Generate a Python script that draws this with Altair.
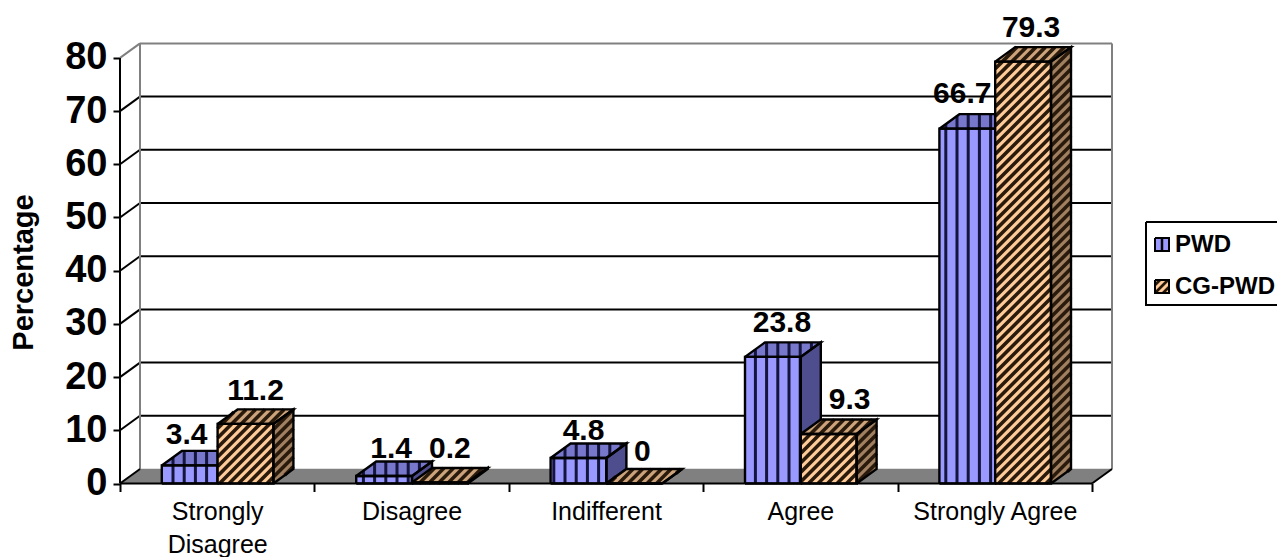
import altair as alt
import pandas as pd

categories = ["Strongly Disagree", "Disagree", "Indifferent", "Agree", "Strongly Agree"]
series_names = ["PWD", "CG-PWD"]
pwd = [3.4, 1.4, 4.8, 23.8, 66.7]
cg_pwd = [11.2, 0.2, 0, 9.3, 79.3]
y_ticks = [0, 10, 20, 30, 40, 50, 60, 70, 80]
# label nudges, in pixels, from the front-top centre of each bar (PWD then CG-PWD per category)
pwd_nudge = [(-3, -30), (7, -27), (5, -27), (9, -34), (-5, -35)]
cg_nudge = [(10, -33), (10, -33), (8, -32), (21, -34), (8, -34)]

# Scale set-up: one category = CAT pixels, one percent = UNIT pixels, plot area origin at (120, 483.5)
CAT, UNIT, OX, OY = 194.4, 5.32, 120.0, 483.5
PW, PH = 1157, 475.5
DX, DY = 20.0, 14.5
GAP, BW = 41.8, 55.8
Y_TITLE = "Percentage"


def X(px):
    return (px - OX) / CAT


def Y(py):
    return (OY - py) / UNIT


xs = alt.Scale(domain=[0, PW / CAT], nice=False, zero=False)
ys = alt.Scale(domain=[0, PH / UNIT], nice=False, zero=False)


def enc_xy():
    return dict(x=alt.X("x:Q", scale=xs, title=None), y=alt.Y("y:Q", scale=ys, title=Y_TITLE))


def poly_df(polys):
    rows = []
    for i, p in enumerate(polys):
        for s, (a, b) in enumerate(list(p) + [p[0]]):
            rows.append({"id": i, "s": s, "x": X(a), "y": Y(b)})
    return pd.DataFrame(rows)


def fill_layer(polys, color):
    return alt.Chart(poly_df(polys)).mark_line(fill=color, stroke=color, strokeWidth=0.5).encode(
        detail="id:N", order="s:Q", **enc_xy())


def outline_layer(polys, color="black", w=2.4):
    return alt.Chart(poly_df(polys)).mark_line(stroke=color, strokeWidth=w, strokeJoin="miter").encode(
        detail="id:N", order="s:Q", **enc_xy())


def seg_layer(segs, color, w):
    df = pd.DataFrame([{"x": X(a), "y": Y(b), "x2": X(c), "y2": Y(d)} for a, b, c, d in segs])
    return alt.Chart(df).mark_rule(color=color, strokeWidth=w).encode(x2="x2:Q", y2="y2:Q", **enc_xy())


def clip(poly, kind, c):
    f = (lambda p: p[0]) if kind == "v" else (lambda p: p[0] + p[1])
    pts = []
    n = len(poly)
    for i in range(n):
        a, b = poly[i], poly[(i + 1) % n]
        fa, fb = f(a), f(b)
        if fa == fb:
            continue
        t = (c - fa) / (fb - fa)
        if 0 <= t <= 1:
            pts.append((a[0] + t * (b[0] - a[0]), a[1] + t * (b[1] - a[1])))
    if len(pts) < 2:
        return None
    pts.sort()
    return (*pts[0], *pts[-1])


def stripes(polys, kind, period, phase=0.0):
    out = []
    for poly in polys:
        f = (lambda p: p[0]) if kind == "v" else (lambda p: p[0] + p[1])
        lo, hi = min(map(f, poly)), max(map(f, poly))
        k = int((lo - phase) // period)
        c = k * period + phase
        while c <= hi:
            s = clip(poly, kind, c)
            if s:
                out.append(s)
            c += period
    return out


def bar_faces(values, idx):
    fr, tp, sd = [], [], []
    for i, v in enumerate(values):
        x0 = OX + CAT * i + GAP + idx * BW
        x1 = x0 + BW
        yt = OY - v * UNIT
        fr.append([(x0, OY), (x1, OY), (x1, yt), (x0, yt)])
        tp.append([(x0, yt), (x1, yt), (x1 + DX, yt - DY), (x0 + DX, yt - DY)])
        sd.append([(x1, OY), (x1 + DX, OY - DY), (x1 + DX, yt - DY), (x1, yt)])
    return fr, tp, sd


layers = []

# real axes
tick_vals = [i / 2 for i in range(11)]
label_expr = ""
wrapped = {"Strongly Disagree": ["Strongly", "Disagree"]}
for i, c in enumerate(categories):
    parts = wrapped.get(c, [c])
    lit = "[" + ",".join("'" + p + "'" for p in parts) + "]"
    label_expr += f"datum.value=={i + 0.5}?{lit}:"
label_expr += "''"
axis_df = pd.DataFrame({"x": [0.0], "y": [0.0]})
layers.append(alt.Chart(axis_df).mark_point(opacity=0).encode(
    x=alt.X("x:Q", scale=xs, title=None, axis=alt.Axis(
        values=tick_vals, labelExpr=label_expr, domain=False, grid=False, tickSize=8, tickWidth=2,
        tickColor="black", tickOpacity=alt.condition("datum.value % 1 == 0", alt.value(1), alt.value(0)),
        labelFont="Liberation Sans", labelFontSize=25, labelColor="black", labelPadding=8, labelLineHeight=33,
        labelOverlap=False, labelBound=False, labelFlush=False, labelAngle=0, labelBaseline="top")),
    y=alt.Y("y:Q", scale=ys, title=Y_TITLE, axis=alt.Axis(
        values=y_ticks, format="d", domain=False, grid=False, tickSize=7, tickWidth=2, tickColor="black",
        labelFont="Liberation Sans", labelFontWeight="bold", labelFontSize=38, labelColor="black", labelPadding=6,
        labelOverlap=False, labelBound=False,
        titleFont="Liberation Sans", titleFontWeight="bold", titleFontSize=29, titleColor="black",
        titlePadding=12, titleX=-97, titleY=PH - (483.5 - 272), titleAlign="center", titleBaseline="middle"))))

# wall frame and floor
XR = OX + 5 * CAT
back = [OY - DY - v * UNIT for v in y_ticks]
layers.append(seg_layer([(OX + DX, b, XR + DX, b) for b in back[1:-1]], "black", 2))
layers.append(seg_layer([(OX, OY - v * UNIT, OX + DX, OY - DY - v * UNIT) for v in y_ticks[1:-1]], "black", 2))
layers.append(seg_layer([(OX + DX, back[0], OX + DX, back[-1]), (XR + DX, back[0], XR + DX, back[-1]),
                         (OX + DX, back[-1], XR + DX, back[-1]),
                         (OX, OY - 80 * UNIT, OX + DX, back[-1])], "#808080", 2))
floor = [(OX, OY), (XR, OY), (XR + DX, OY - DY), (OX + DX, OY - DY)]
layers.append(fill_layer([floor], "#808080"))
layers.append(seg_layer([(OX, OY, OX + DX, OY - DY), (XR, OY, XR + DX, OY - DY)], "black", 2))

# bars: PWD
fr, tp, sd = bar_faces(pwd, 0)
layers += [fill_layer(fr, "#9999FF"), fill_layer(tp, "#7777CC"), fill_layer(sd, "#4E4E8E")]
layers.append(seg_layer(stripes(fr + tp, "v", 11.2, 5.0), "#14143C", 3))
layers.append(outline_layer(fr + tp + sd))

# bars: CG-PWD
fr, tp, sd = bar_faces(cg_pwd, 1)
layers += [fill_layer(fr, "#FFCC99"), fill_layer(tp, "#CCA37A"), fill_layer(sd, "#A08060")]
layers.append(seg_layer(stripes(fr + tp + sd, "d", 9.5), "#2A1A0C", 3.6))
layers.append(outline_layer(fr + tp + sd))

# front axis lines
layers.append(seg_layer([(OX, OY, XR, OY), (OX, OY, OX, OY - 80 * UNIT)], "black", 2))

# value labels
lab = []
for i, c in enumerate(categories):
    for j, (v, n) in enumerate(((pwd[i], pwd_nudge[i]), (cg_pwd[i], cg_nudge[i]))):
        cx = OX + CAT * i + GAP + j * BW + BW / 2 + n[0]
        cy = OY - v * UNIT + n[1]
        lab.append({"x": X(cx), "y": Y(cy), "t": f"{v:g}"})
layers.append(alt.Chart(pd.DataFrame(lab)).mark_text(
    font="Liberation Sans", fontWeight="bold", fontSize=30, color="black", baseline="middle", align="center"
).encode(text="t:N", **enc_xy()))

# legend
box = [(1146, 222), (1300, 222), (1300, 305), (1146, 305)]
layers.append(outline_layer([box], "black", 2))
sw1 = [(1155, 238), (1169, 238), (1169, 251), (1155, 251)]
sw2 = [(1155, 280), (1169, 280), (1169, 293), (1155, 293)]
layers += [fill_layer([sw1], "#9999FF"), seg_layer([(1162, 238, 1162, 251)], "black", 2.5), outline_layer([sw1], "black", 2)]
layers += [fill_layer([sw2], "#FFCC99"), seg_layer(stripes([sw2], "d", 8.0), "#241608", 2.6), outline_layer([sw2], "black", 2)]
leg = pd.DataFrame({"x": [X(1175), X(1175)], "y": [Y(245), Y(287)], "t": series_names})
layers.append(alt.Chart(leg).mark_text(
    font="Liberation Sans", fontWeight="bold", fontSize=24, color="black", baseline="middle", align="left"
).encode(text="t:N", **enc_xy()))

chart = alt.layer(*layers).properties(
    width=PW, height=PH, autosize=alt.AutoSizeParams(type="none"),
    padding={"left": 112, "top": 0, "right": 0, "bottom": 73},
).configure_view(stroke=None)

chart.save("out.html", embed_options={"renderer": "svg", "actions": False})
